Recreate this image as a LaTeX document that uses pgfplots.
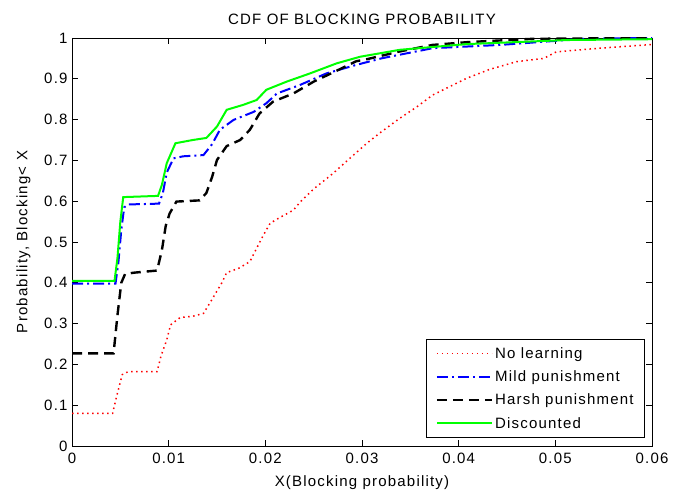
\documentclass[border=0pt]{standalone}
\usepackage{fontspec}
\setmainfont{Liberation Sans}[LetterSpace=8]
\usepackage{pgfplots}
\pgfplotsset{compat=1.18}
\newcommand{\myfont}{\fontsize{15bp}{17bp}\selectfont}
\begin{document}
\begin{tikzpicture}[x=1bp,y=1bp]
\path[use as bounding box] (-72,-50) rectangle (613,446);
\begin{axis}[
  at={(0,0)}, anchor=south west,
  scale only axis, width=580bp, height=408bp,
  xmin=0, xmax=0.06, ymin=0, ymax=1,
  xtick={0,0.01,0.02,0.03,0.04,0.05,0.06},
  ytick={0,0.1,0.2,0.3,0.4,0.5,0.6,0.7,0.8,0.9,1},
  scaled x ticks=false, scaled y ticks=false,
  /pgf/number format/assume math mode=true,
  xticklabel style={/pgf/number format/fixed, /pgf/number format/precision=2, font=\myfont, yshift=-4bp},
  yticklabel style={/pgf/number format/fixed, /pgf/number format/precision=1, font=\myfont, xshift=-1bp},
  tick align=inside, major tick length=6bp,
  axis line style={line width=0.9bp},
  every tick/.style={black, line width=0.9bp},
  title={CDF OF BLOCKING PROBABILITY},
  title style={font=\myfont, yshift=4bp},
  xlabel={X(Blocking probability)},
  ylabel={Probability, Blocking< X},
  label style={font=\myfont},
  xlabel style={yshift=-5bp},
  ylabel style={yshift=7bp},
  legend cell align=left,
  legend style={font=\myfont, at={(rel axis cs:0.988,0.0196)}, anchor=south east,
    draw=black, line width=0.9bp, inner xsep=9bp, inner ysep=6bp, row sep=7bp},
  legend image code/.code={\draw[#1] (0bp,0bp) -- (55bp,0bp);},
]
\addplot[red, line width=1.5bp, dash pattern=on 1.5bp off 3.5bp] coordinates {
(0,0.08) (0.0042,0.08) (0.0046,0.12) (0.0052,0.175) (0.0058,0.182) (0.0088,0.182) (0.0092,0.22) (0.0098,0.26) (0.0102,0.297) (0.0112,0.315) (0.0125,0.318) (0.0136,0.325) (0.0145,0.36) (0.0155,0.4) (0.016,0.425) (0.0172,0.435) (0.0184,0.452) (0.019,0.48) (0.0198,0.517) (0.0205,0.546) (0.0215,0.56) (0.0229,0.578) (0.0236,0.598) (0.025,0.63) (0.027,0.668) (0.0285,0.7) (0.0305,0.742) (0.032,0.77) (0.0339,0.803) (0.0356,0.83) (0.0373,0.86) (0.039,0.88) (0.0408,0.901) (0.0432,0.923) (0.046,0.942) (0.0488,0.95) (0.0501,0.966) (0.0546,0.975) (0.06,0.984)
};
\addlegendentry{No learning}
\addplot[blue, line width=2bp, dash pattern=on 11bp off 4bp on 2bp off 4bp] coordinates {
(0,0.398) (0.0045,0.398) (0.0048,0.45) (0.0051,0.53) (0.0054,0.585) (0.0058,0.592) (0.009,0.594) (0.0094,0.62) (0.0098,0.67) (0.0105,0.705) (0.0115,0.71) (0.0136,0.713) (0.0145,0.74) (0.0153,0.775) (0.0167,0.799) (0.0188,0.819) (0.0201,0.84) (0.0212,0.864) (0.0236,0.885) (0.0263,0.913) (0.0294,0.934) (0.032,0.95) (0.0373,0.975) (0.0443,0.983) (0.0529,0.998) (0.06,1.0)
};
\addlegendentry{Mild punishment}
\addplot[black, line width=2.4bp, dash pattern=on 10bp off 6bp] coordinates {
(0,0.227) (0.0043,0.227) (0.0047,0.32) (0.0051,0.4) (0.0055,0.422) (0.0065,0.425) (0.0088,0.43) (0.0093,0.48) (0.0097,0.54) (0.0101,0.57) (0.0108,0.599) (0.0132,0.602) (0.0139,0.62) (0.0145,0.66) (0.015,0.701) (0.016,0.735) (0.0174,0.75) (0.0184,0.775) (0.0194,0.815) (0.0208,0.844) (0.0229,0.864) (0.025,0.893) (0.0274,0.92) (0.0294,0.943) (0.0305,0.948) (0.0339,0.967) (0.0373,0.983) (0.041,0.99) (0.0477,0.998) (0.06,1.0)
};
\addlegendentry{Harsh punishment}
\addplot[color={rgb,255:red,0;green,255;blue,0}, line width=2bp] coordinates {
(0,0.405) (0.0044,0.405) (0.0047,0.46) (0.005,0.55) (0.0053,0.61) (0.0089,0.613) (0.0093,0.64) (0.0098,0.693) (0.0107,0.742) (0.0125,0.75) (0.0139,0.755) (0.015,0.783) (0.016,0.824) (0.0177,0.836) (0.0191,0.848) (0.0201,0.873) (0.0222,0.893) (0.0246,0.913) (0.0274,0.938) (0.0298,0.954) (0.0339,0.971) (0.0408,0.985) (0.0512,0.995) (0.06,0.997)
};
\addlegendentry{Discounted}
\end{axis}
\end{tikzpicture}
\end{document}
